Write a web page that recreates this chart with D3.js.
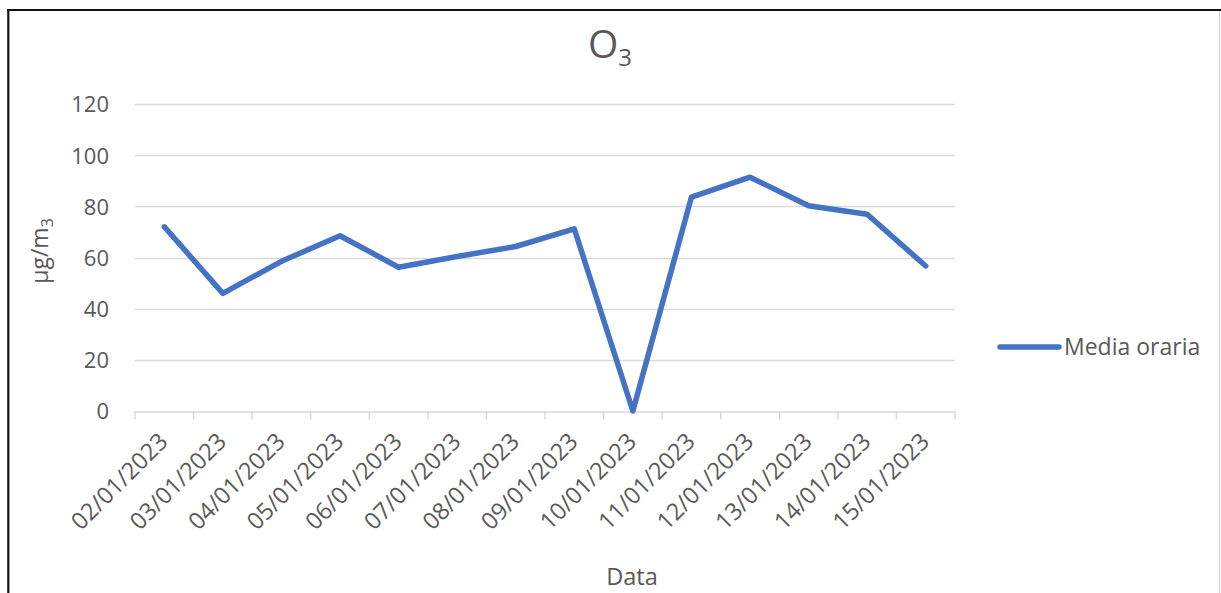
<!DOCTYPE html>
<html>
<head>
<meta charset="utf-8">
<script src="https://cdn.jsdelivr.net/npm/d3@7"></script>
<style>
  html, body { margin: 0; padding: 0; background: #fff; }
  svg { display: block; }
  text { font-family: "Open Sans", "Liberation Sans", sans-serif; fill: #595959; }
</style>
</head>
<body>
<script>
// ---- data ----
const categories = ["02/01/2023","03/01/2023","04/01/2023","05/01/2023","06/01/2023","07/01/2023","08/01/2023",
                    "09/01/2023","10/01/2023","11/01/2023","12/01/2023","13/01/2023","14/01/2023","15/01/2023"];
const mediaOraria = [72, 46, 58.5, 68.5, 56.2, 60.4, 64.3, 71.2, 0, 83.6, 91.4, 80.2, 76.9, 56.7];
const yTicks = [0, 20, 40, 60, 80, 100, 120];
const seriesName = "Media oraria";
const titleMain = "O", titleSub = "3";
const yLabelMain = "μg/m", yLabelSub = "3";
const xLabel = "Data";

// ---- layout ----
const W = 1221, H = 593;
const plot = { left: 135, right: 955, top: 104, bottom: 411 };
const color = "#4472C4";
const grid = "#d9d9d9";

const svg = d3.select("body").append("svg").attr("width", W).attr("height", H);

// frame
svg.append("line").attr("x1", 7).attr("x2", W).attr("y1", 10).attr("y2", 10)
   .attr("stroke", "#111").attr("stroke-width", 2.2);
svg.append("line").attr("x1", 8.3).attr("x2", 8.3).attr("y1", 9).attr("y2", H)
   .attr("stroke", "#111").attr("stroke-width", 2.2);
svg.append("line").attr("x1", 1219.5).attr("x2", 1219.5).attr("y1", 11).attr("y2", H)
   .attr("stroke", "#d0d0d0").attr("stroke-width", 1);

const x = d3.scaleBand().domain(categories).range([plot.left, plot.right]).padding(0);
const y = d3.scaleLinear().domain([0, 120]).range([plot.bottom, plot.top]);

// gridlines
svg.append("g").selectAll("line").data(yTicks.filter(d => d !== 0)).join("line")
  .attr("x1", plot.left).attr("x2", plot.right)
  .attr("y1", d => Math.round(y(d)) + 0.5).attr("y2", d => Math.round(y(d)) + 0.5)
  .attr("stroke", grid).attr("stroke-width", 1.3);

// y tick labels
const yAxis = svg.append("g").attr("transform", `translate(${plot.left},0)`)
  .call(d3.axisLeft(y).tickValues(yTicks).tickSize(0).tickPadding(26));
yAxis.select(".domain").remove();
yAxis.selectAll("text").attr("font-size", 22).attr("fill", "#595959")
  .style("font-family", "'Open Sans', sans-serif").attr("dy", "0.36em");

// x axis
const xAxis = svg.append("g").attr("transform", `translate(0,${Math.round(plot.bottom) + 0.5})`)
  .call(d3.axisBottom(x).tickSize(0).tickFormat(""));
xAxis.select(".domain").attr("stroke", grid).attr("stroke-width", 1.5);
// category boundary ticks
const bounds = categories.map(c => x(c)).concat([plot.right]);
svg.append("g").selectAll("line").data(bounds).join("line")
  .attr("x1", d => d).attr("x2", d => d)
  .attr("y1", plot.bottom).attr("y2", plot.bottom + 8.5)
  .attr("stroke", grid).attr("stroke-width", 1.5);
// x labels
svg.append("g").selectAll("text").data(categories).join("text")
  .attr("transform", d => `translate(${x(d) + x.bandwidth() / 2 + 5},443) rotate(-45)`)
  .attr("text-anchor", "end")
  .attr("font-size", 23.5)
  .text(d => d);

// line
const line = d3.line()
  .x((d, i) => x(categories[i]) + x.bandwidth() / 2)
  .y(d => y(d));
svg.append("path").datum(mediaOraria)
  .attr("d", line)
  .attr("fill", "none").attr("stroke", color)
  .attr("stroke-width", 5.5).attr("stroke-linejoin", "round").attr("stroke-linecap", "round");

// title
const t = svg.append("text").attr("x", 610).attr("y", 58).attr("text-anchor", "middle")
  .attr("font-size", 39);
t.append("tspan").text(titleMain);
t.append("tspan").attr("dy", 8).attr("font-size", 24).text(titleSub);

// y axis label
const yl = svg.append("text").attr("transform", "translate(48,251) rotate(-90)")
  .attr("text-anchor", "middle").attr("font-size", 23);
yl.append("tspan").text(yLabelMain);
yl.append("tspan").attr("dy", 5).attr("font-size", 16).text(yLabelSub);

// x axis label
svg.append("text").attr("x", 632).attr("y", 585).attr("text-anchor", "middle")
  .attr("font-size", 23.5).text(xLabel);

// legend
svg.append("line").attr("x1", 1000).attr("x2", 1059).attr("y1", 347).attr("y2", 347)
  .attr("stroke", color).attr("stroke-width", 5.5).attr("stroke-linecap", "round");
svg.append("text").attr("x", 1064).attr("y", 355).attr("font-size", 23).text(seriesName);
</script>
</body>
</html>
